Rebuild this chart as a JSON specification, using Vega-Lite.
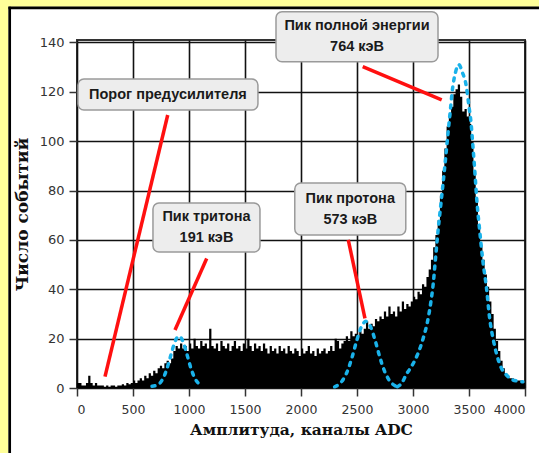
{
  "$schema": "https://vega.github.io/schema/vega-lite/v6.json",
  "width": 448,
  "height": 348,
  "autosize": {"type": "none"},
  "padding": {"left": 77, "top": 40, "right": 14, "bottom": 65},
  "background": "white",
  "config": {
    "view": {"stroke": "#333333", "strokeWidth": 2, "fill": "white"},
    "axis": {
      "grid": true,
      "gridColor": "#111111",
      "gridWidth": 1.6,
      "gridOpacity": 1,
      "domain": false,
      "tickColor": "#333333",
      "tickWidth": 1.5,
      "tickSize": 8,
      "labelFont": "DejaVu Sans",
      "labelFontSize": 13,
      "labelColor": "#333333",
      "titleFont": "DejaVu Serif",
      "titleFontWeight": "bold",
      "titleColor": "#111111"
    }
  },
  "datasets": {
    "hist": [
      {"ch":0,"n":2},{"ch":20,"n":2},{"ch":40,"n":1},{"ch":60,"n":1},{"ch":80,"n":2},{"ch":100,"n":5},{"ch":120,"n":2},{"ch":140,"n":1},{"ch":160,"n":2},{"ch":180,"n":1},
      {"ch":200,"n":1},{"ch":220,"n":1},{"ch":240,"n":0.5},{"ch":260,"n":1},{"ch":280,"n":0.5},{"ch":300,"n":1},{"ch":320,"n":1},{"ch":340,"n":0.5},{"ch":360,"n":1},{"ch":380,"n":1},
      {"ch":400,"n":1.5},{"ch":420,"n":1},{"ch":440,"n":2},{"ch":460,"n":1.5},{"ch":480,"n":2},{"ch":500,"n":3},{"ch":520,"n":2},{"ch":540,"n":3},{"ch":560,"n":4},{"ch":580,"n":3},
      {"ch":600,"n":5},{"ch":620,"n":4},{"ch":640,"n":6},{"ch":660,"n":5},{"ch":680,"n":7},{"ch":700,"n":6},{"ch":720,"n":8},{"ch":740,"n":9},{"ch":760,"n":8},{"ch":780,"n":10},
      {"ch":800,"n":11},{"ch":820,"n":10},{"ch":840,"n":12},{"ch":860,"n":15},{"ch":880,"n":17},{"ch":900,"n":16},{"ch":920,"n":18},{"ch":940,"n":16},{"ch":960,"n":17},{"ch":980,"n":15},
      {"ch":1000,"n":18},{"ch":1020,"n":16},{"ch":1040,"n":20},{"ch":1060,"n":17},{"ch":1080,"n":16},{"ch":1100,"n":19},{"ch":1120,"n":17},{"ch":1140,"n":18},{"ch":1160,"n":16},{"ch":1180,"n":24},
      {"ch":1200,"n":17},{"ch":1220,"n":16},{"ch":1240,"n":18},{"ch":1260,"n":15},{"ch":1280,"n":19},{"ch":1300,"n":17},{"ch":1320,"n":16},{"ch":1340,"n":18},{"ch":1360,"n":15},{"ch":1380,"n":17},
      {"ch":1400,"n":19},{"ch":1420,"n":16},{"ch":1440,"n":17},{"ch":1460,"n":15},{"ch":1480,"n":18},{"ch":1500,"n":16},{"ch":1520,"n":20},{"ch":1540,"n":17},{"ch":1560,"n":15},{"ch":1580,"n":18},
      {"ch":1600,"n":16},{"ch":1620,"n":17},{"ch":1640,"n":15},{"ch":1660,"n":18},{"ch":1680,"n":16},{"ch":1700,"n":14},{"ch":1720,"n":17},{"ch":1740,"n":15},{"ch":1760,"n":16},{"ch":1780,"n":14},
      {"ch":1800,"n":17},{"ch":1820,"n":15},{"ch":1840,"n":16},{"ch":1860,"n":14},{"ch":1880,"n":17},{"ch":1900,"n":15},{"ch":1920,"n":14},{"ch":1940,"n":16},{"ch":1960,"n":15},{"ch":1980,"n":13},
      {"ch":2000,"n":16},{"ch":2020,"n":14},{"ch":2040,"n":15},{"ch":2060,"n":17},{"ch":2080,"n":14},{"ch":2100,"n":15},{"ch":2120,"n":13},{"ch":2140,"n":16},{"ch":2160,"n":14},{"ch":2180,"n":15},
      {"ch":2200,"n":16},{"ch":2220,"n":14},{"ch":2240,"n":15},{"ch":2260,"n":17},{"ch":2280,"n":15},{"ch":2300,"n":20},{"ch":2320,"n":19},{"ch":2340,"n":16},{"ch":2360,"n":18},{"ch":2380,"n":19},
      {"ch":2400,"n":21},{"ch":2420,"n":19},{"ch":2440,"n":23},{"ch":2460,"n":21},{"ch":2480,"n":22},{"ch":2500,"n":21},{"ch":2520,"n":23},{"ch":2540,"n":22},{"ch":2560,"n":24},{"ch":2580,"n":27},
      {"ch":2600,"n":24},{"ch":2620,"n":26},{"ch":2640,"n":25},{"ch":2660,"n":28},{"ch":2680,"n":27},{"ch":2700,"n":29},{"ch":2720,"n":28},{"ch":2740,"n":31},{"ch":2760,"n":29},{"ch":2780,"n":33},
      {"ch":2800,"n":30},{"ch":2820,"n":31},{"ch":2840,"n":29},{"ch":2860,"n":33},{"ch":2880,"n":31},{"ch":2900,"n":35},{"ch":2920,"n":32},{"ch":2940,"n":34},{"ch":2960,"n":33},{"ch":2980,"n":35},
      {"ch":3000,"n":37},{"ch":3020,"n":36},{"ch":3040,"n":39},{"ch":3060,"n":38},{"ch":3080,"n":42},{"ch":3100,"n":41},{"ch":3120,"n":45},{"ch":3140,"n":48},{"ch":3160,"n":52},{"ch":3180,"n":57},
      {"ch":3200,"n":62},{"ch":3220,"n":68},{"ch":3240,"n":78},{"ch":3260,"n":88},{"ch":3280,"n":97},{"ch":3300,"n":106},{"ch":3320,"n":110},{"ch":3340,"n":114},{"ch":3360,"n":119},{"ch":3380,"n":121},
      {"ch":3400,"n":123},{"ch":3420,"n":118},{"ch":3440,"n":112},{"ch":3460,"n":113},{"ch":3480,"n":110},{"ch":3500,"n":107},{"ch":3520,"n":100},{"ch":3540,"n":88},{"ch":3560,"n":76},{"ch":3580,"n":66},
      {"ch":3600,"n":58},{"ch":3620,"n":52},{"ch":3640,"n":46},{"ch":3660,"n":41},{"ch":3680,"n":35},{"ch":3700,"n":30},{"ch":3720,"n":24},{"ch":3740,"n":19},{"ch":3760,"n":15},{"ch":3780,"n":11},
      {"ch":3800,"n":8},{"ch":3820,"n":6},{"ch":3840,"n":5},{"ch":3860,"n":4},{"ch":3880,"n":4},{"ch":3900,"n":3},{"ch":3920,"n":3},{"ch":3940,"n":3},{"ch":3960,"n":3},{"ch":3980,"n":2},
      {"ch":4000,"n":2}
    ],
    "fits": [
      {"peak":"t","ch":670,"v":0.7},{"peak":"t","ch":720,"v":1.3},{"peak":"t","ch":760,"v":3.2},{"peak":"t","ch":800,"v":7.4},{"peak":"t","ch":840,"v":13.6},{"peak":"t","ch":870,"v":18.2},{"peak":"t","ch":890,"v":20.2},{"peak":"t","ch":911,"v":21},{"peak":"t","ch":930,"v":20.3},{"peak":"t","ch":950,"v":18.4},{"peak":"t","ch":980,"v":13.9},{"peak":"t","ch":1020,"v":7.6},{"peak":"t","ch":1060,"v":3.3},{"peak":"t","ch":1100,"v":1.4},{"peak":"t","ch":1115,"v":1},
      {"peak":"p","ch":2300,"v":0.5},{"peak":"p","ch":2340,"v":1.5},{"peak":"p","ch":2380,"v":3.7},{"peak":"p","ch":2420,"v":7.5},{"peak":"p","ch":2460,"v":13.1},{"peak":"p","ch":2500,"v":19.6},{"peak":"p","ch":2540,"v":24.9},{"peak":"p","ch":2580,"v":27},{"peak":"p","ch":2620,"v":24.9},{"peak":"p","ch":2660,"v":19.6},{"peak":"p","ch":2700,"v":13.1},{"peak":"p","ch":2740,"v":7.5},{"peak":"p","ch":2780,"v":3.7},{"peak":"p","ch":2820,"v":1.5},{"peak":"p","ch":2860,"v":0.5},
      {"peak":"m","ch":2860,"v":0.5},{"peak":"m","ch":2900,"v":2},{"peak":"m","ch":2940,"v":5.5},{"peak":"m","ch":2990,"v":9},{"peak":"m","ch":3040,"v":13.5},{"peak":"m","ch":3090,"v":20},{"peak":"m","ch":3130,"v":27},{"peak":"m","ch":3160,"v":35},{"peak":"m","ch":3180,"v":42},{"peak":"m","ch":3200,"v":52},{"peak":"m","ch":3220,"v":62},{"peak":"m","ch":3250,"v":75},{"peak":"m","ch":3280,"v":88},{"peak":"m","ch":3310,"v":102},{"peak":"m","ch":3330,"v":111},{"peak":"m","ch":3355,"v":122},{"peak":"m","ch":3380,"v":128},{"peak":"m","ch":3410,"v":131},{"peak":"m","ch":3440,"v":128},{"peak":"m","ch":3477,"v":122},{"peak":"m","ch":3500,"v":114},{"peak":"m","ch":3517,"v":108},{"peak":"m","ch":3535,"v":98},{"peak":"m","ch":3550,"v":89},{"peak":"m","ch":3570,"v":76},{"peak":"m","ch":3595,"v":64},{"peak":"m","ch":3625,"v":51},{"peak":"m","ch":3655,"v":41},{"peak":"m","ch":3685,"v":28},{"peak":"m","ch":3715,"v":20},{"peak":"m","ch":3745,"v":14},{"peak":"m","ch":3790,"v":8},{"peak":"m","ch":3830,"v":5.5},{"peak":"m","ch":3880,"v":3.5},{"peak":"m","ch":3930,"v":2.8},{"peak":"m","ch":3980,"v":2.5}
    ],
    "leaders": [
      {"ax":810,"ay":110.6,"bx":250,"by":4.6},
      {"ax":1158,"ay":52.5,"bx":875,"by":23.5},
      {"ax":2422,"ay":60,"bx":2571,"by":28.2},
      {"ax":2551,"ay":130.2,"bx":3256,"by":116.7}
    ],
    "notes": [
      {"id":1,"ch":812,"v":118.9,"t":"Порог предусилителя"},
      {"id":2,"ch":1156,"v":65,"t":"Пик тритона\n191 кэВ"},
      {"id":3,"ch":2440,"v":72.5,"t":"Пик протона\n573 кэВ"},
      {"id":4,"ch":2500,"v":142.3,"t":"Пик полной энергии\n764 кэВ"}
    ]
  },
  "layer": [
    {
      "data": {"values": [{}]},
      "mark": {"type": "rect", "fill": "#FFFF99", "clip": false},
      "encoding": {
        "x": {"datum": -800}, "x2": {"datum": -613},
        "y": {"datum": -100}, "y2": {"datum": 180}
      }
    },
    {
      "data": {"values": [{}]},
      "mark": {"type": "rect", "fill": "#FFFF99", "clip": false},
      "encoding": {
        "x": {"datum": -800}, "x2": {"datum": 4600},
        "y": {"datum": 154.5}, "y2": {"datum": 180}
      }
    },
    {
      "data": {"values": [{}]},
      "mark": {"type": "rule", "color": "#000000", "strokeWidth": 2.7, "clip": false},
      "encoding": {
        "x": {"datum": -601},
        "y": {"datum": -100}, "y2": {"datum": 154.5}
      }
    },
    {
      "data": {"values": [{}]},
      "mark": {"type": "rule", "color": "#000000", "strokeWidth": 2.7, "clip": false},
      "encoding": {
        "y": {"datum": 154},
        "x": {"datum": -612}, "x2": {"datum": 4600}
      }
    },
    {
      "data": {"name": "hist"},
      "mark": {"type": "area", "interpolate": "step-after", "color": "#000000"},
      "encoding": {
        "x": {
          "field": "ch", "type": "quantitative",
          "scale": {"domain": [0, 4000], "nice": false},
          "axis": {"values": [0,500,1000,1500,2000,2500,3000,3500,4000], "format": "d", "labelPadding": 7, "labelFontSize": 12.5, "title": "Амплитуда, каналы ADC", "titleFontSize": 15.5, "titlePadding": 7}
        },
        "y": {
          "field": "n", "type": "quantitative",
          "scale": {"domain": [0, 141], "nice": false},
          "axis": {"values": [0,20,40,60,80,100,120,140], "format": "d", "labelPadding": 5, "title": "Число событий", "titleFontSize": 17, "titlePadding": 8}
        }
      }
    },
    {
      "data": {"name": "fits"},
      "mark": {"type": "line", "interpolate": "monotone", "color": "#1AB2EA", "strokeWidth": 3.5, "strokeDash": [3, 6], "strokeCap": "round"},
      "encoding": {
        "x": {"field": "ch", "type": "quantitative"},
        "y": {"field": "v", "type": "quantitative"},
        "detail": {"field": "peak"}
      }
    },
    {
      "data": {"name": "leaders"},
      "mark": {"type": "rule", "color": "#FF1010", "strokeWidth": 3.5, "clip": false},
      "encoding": {
        "x": {"field": "ax", "type": "quantitative"},
        "y": {"field": "ay", "type": "quantitative"},
        "x2": {"field": "bx"},
        "y2": {"field": "by"}
      }
    },
    {
      "data": {"name": "notes"},
      "transform": [{"filter": "datum.id == 1"}],
      "mark": {"type": "rect", "width": 180, "height": 31, "cornerRadius": 6, "fill": "#EDEDED", "stroke": "#9A9A9A", "strokeWidth": 1.5, "clip": false},
      "encoding": {"x": {"field": "ch", "type": "quantitative"}, "y": {"field": "v", "type": "quantitative"}}
    },
    {
      "data": {"name": "notes"},
      "transform": [{"filter": "datum.id == 2"}],
      "mark": {"type": "rect", "width": 107, "height": 49, "cornerRadius": 6, "fill": "#EDEDED", "stroke": "#9A9A9A", "strokeWidth": 1.5, "clip": false},
      "encoding": {"x": {"field": "ch", "type": "quantitative"}, "y": {"field": "v", "type": "quantitative"}}
    },
    {
      "data": {"name": "notes"},
      "transform": [{"filter": "datum.id == 3"}],
      "mark": {"type": "rect", "width": 111, "height": 52, "cornerRadius": 6, "fill": "#EDEDED", "stroke": "#9A9A9A", "strokeWidth": 1.5, "clip": false},
      "encoding": {"x": {"field": "ch", "type": "quantitative"}, "y": {"field": "v", "type": "quantitative"}}
    },
    {
      "data": {"name": "notes"},
      "transform": [{"filter": "datum.id == 4"}],
      "mark": {"type": "rect", "width": 162, "height": 50, "cornerRadius": 6, "fill": "#EDEDED", "stroke": "#9A9A9A", "strokeWidth": 1.5, "clip": false},
      "encoding": {"x": {"field": "ch", "type": "quantitative"}, "y": {"field": "v", "type": "quantitative"}}
    },
    {
      "data": {"name": "notes"},
      "transform": [{"filter": "datum.id == 1"}],
      "mark": {"type": "text", "font": "Liberation Sans", "fontWeight": "bold", "fontSize": 14.5, "color": "#1A1A1A", "align": "center", "baseline": "middle", "clip": false},
      "encoding": {
        "x": {"field": "ch", "type": "quantitative"},
        "y": {"field": "v", "type": "quantitative"},
        "text": {"field": "t"}
      }
    },
    {
      "data": {"name": "notes"},
      "transform": [{"filter": "datum.id > 1"}],
      "mark": {"type": "text", "lineBreak": "\n", "lineHeight": 21, "dy": -10.5, "font": "Liberation Sans", "fontWeight": "bold", "fontSize": 14.5, "color": "#1A1A1A", "align": "center", "baseline": "middle", "clip": false},
      "encoding": {
        "x": {"field": "ch", "type": "quantitative"},
        "y": {"field": "v", "type": "quantitative"},
        "text": {"field": "t"}
      }
    }
  ]
}
